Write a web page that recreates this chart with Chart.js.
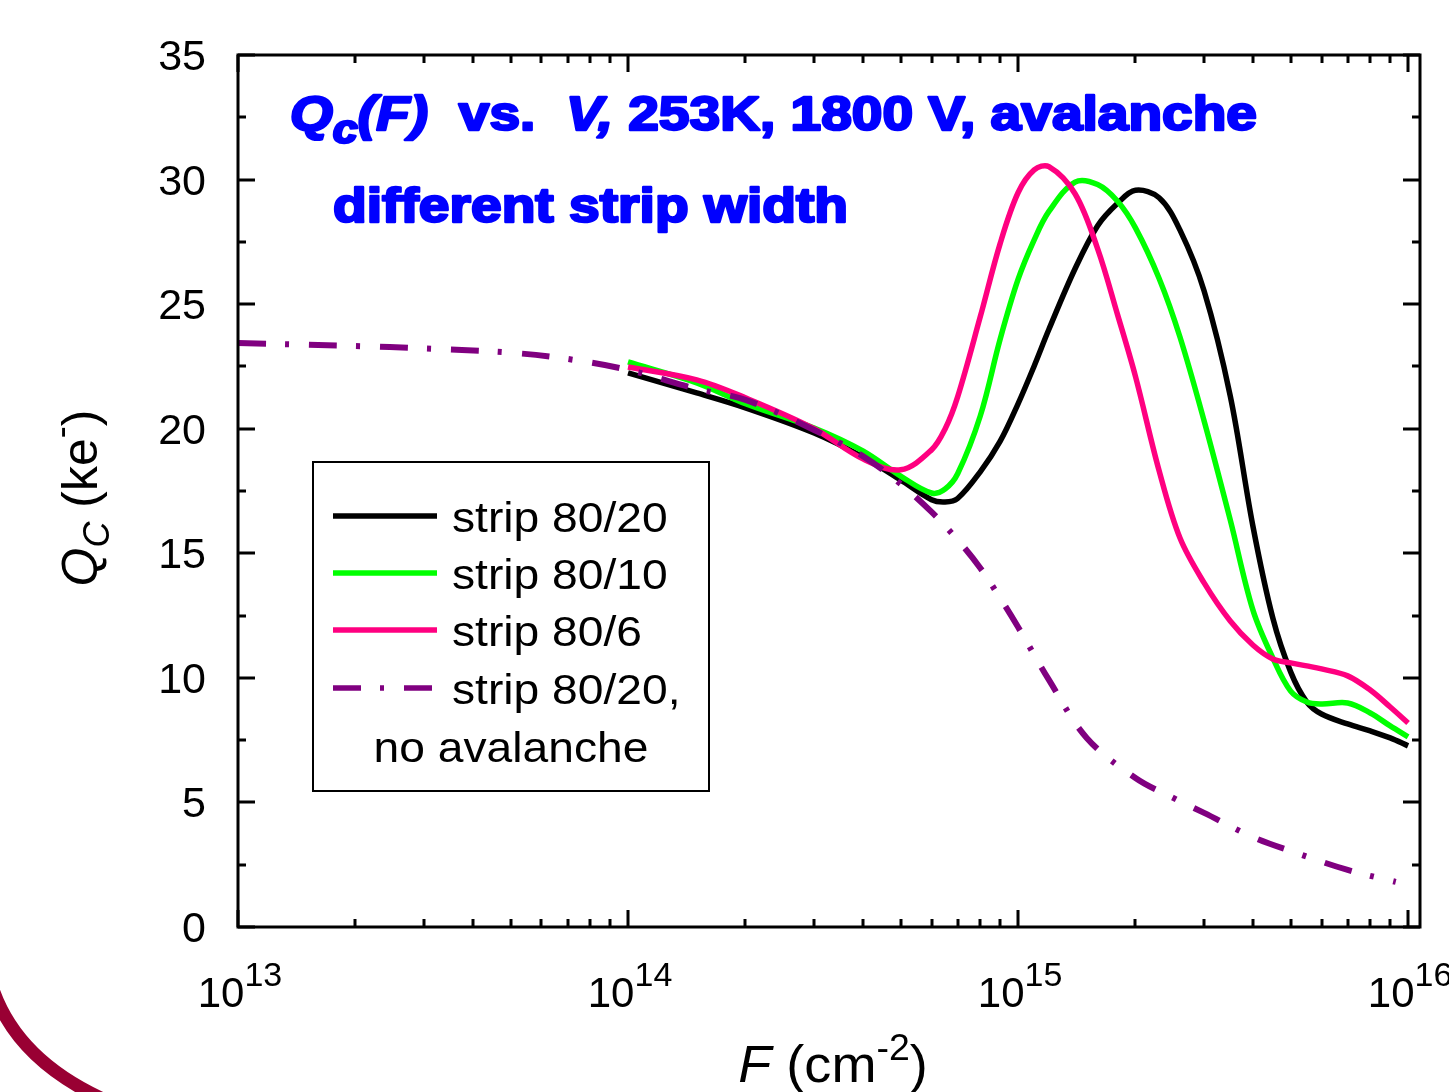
<!DOCTYPE html>
<html>
<head>
<meta charset="utf-8">
<script src="https://cdn.jsdelivr.net/npm/chart.js@4.4.0/dist/chart.umd.min.js"></script>
<style>
  html, body { margin: 0; padding: 0; background: #fff; }
  canvas { display: block; }
</style>
</head>
<body>
<canvas id="chart" width="1449" height="1092"></canvas>
<script>
// fluence points (cm^-2) for the avalanche runs
const fluence = [1e14, 1.5e14, 2e14, 3e14, 4e14, 5e14, 6e14, 6.5e14, 7e14, 8e14, 9e14,
  1e15, 1.1e15, 1.2e15, 1.4e15, 1.6e15, 1.8e15, 2e15, 2.3e15, 2.6e15, 3e15, 3.5e15,
  4e15, 4.5e15, 5e15, 5.5e15, 6e15, 7e15, 8e15, 9e15, 1e16];

const strip8020 = [22.24, 21.44, 20.84, 19.83, 18.87, 17.94, 17.15, 17.06, 17.2, 18.27, 19.5,
  21.0, 22.52, 23.99, 26.42, 28.15, 29.05, 29.57, 29.27, 27.98, 25.53, 21.32,
  16.1, 12.4, 10.24, 9.03, 8.55, 8.15, 7.87, 7.59, 7.27];

const strip8010 = [22.68, 21.84, 21.0, 20.03, 19.11, 18.1, 17.42, 17.58, 18.19, 20.51, 23.6,
  25.99, 27.58, 28.72, 29.9, 29.8, 29.13, 28.06, 26.03, 23.69, 20.31, 16.34,
  12.73, 10.8, 9.47, 9.03, 8.95, 8.99, 8.59, 8.07, 7.63];

const strip806 = [22.48, 21.96, 21.24, 20.0, 18.79, 18.35, 19.15, 19.99, 21.28, 24.49, 27.44,
  29.47, 30.39, 30.52, 29.43, 27.22, 24.57, 22.1, 18.31, 15.62, 13.81, 12.28,
  11.32, 10.76, 10.6, 10.48, 10.36, 10.08, 9.51, 8.83, 8.19];

// no avalanche run covers a wider range
const fluenceNoAv = [1e13, 2e13, 3e13, 5e13, 7e13, 1e14, 1.5e14, 2e14, 3e14, 4e14, 5e14,
  6e14, 7e14, 8e14, 9e14, 1e15, 1.2e15, 1.5e15, 2e15, 2.5e15, 3e15, 4e15, 5e15, 7e15, 9.3e15];
const strip8020NoAv = [23.44, 23.32, 23.22, 23.05, 22.8, 22.36, 21.6, 21.16, 19.95, 18.9, 17.78,
  16.66, 15.54, 14.41, 13.2, 12.04, 9.92, 7.59, 5.98, 5.18, 4.58, 3.61, 3.05, 2.29, 1.81];

const yTicks = [0, 5, 10, 15, 20, 25, 30, 35];
const xDecades = [13, 14, 15, 16];

const FAM = '"Liberation Sans", Arial, sans-serif';

function pts(xs, ys) {
  return xs.map((x, i) => ({ x: x, y: ys[i] }));
}

function fontOf(p, size) {
  return (p.italic ? 'italic ' : '') + (p.bold ? 'bold ' : '') + (p.size || size) + 'px ' + FAM;
}

// draws a run of text pieces (sub/superscripts via dy), optional horizontal stretch
function drawRich(ctx, parts, x, y, o) {
  let w = 0;
  parts.forEach(p => { ctx.font = fontOf(p, o.size); w += ctx.measureText(p.t).width; });
  let sx = o.sx || 1;
  if (o.fit) sx = o.fit / w;
  w *= sx;
  let x0 = o.align === 'center' ? x - w / 2 : (o.align === 'right' ? x - w : x);
  ctx.save();
  ctx.translate(x0, y);
  ctx.scale(sx, 1);
  ctx.fillStyle = o.color || '#000';
  ctx.strokeStyle = o.color || '#000';
  ctx.lineJoin = 'round';
  ctx.textAlign = 'left';
  ctx.textBaseline = 'alphabetic';
  let cx = 0;
  parts.forEach(p => {
    ctx.font = fontOf(p, o.size);
    ctx.fillText(p.t, cx, p.dy || 0);
    if (o.stroke) { ctx.lineWidth = o.stroke; ctx.strokeText(p.t, cx, p.dy || 0); }
    cx += ctx.measureText(p.t).width;
  });
  ctx.restore();
}

const framePlugin = {
  id: 'frame',
  beforeDraw(chart) {
    const ctx = chart.ctx;
    ctx.save();
    ctx.fillStyle = '#fff';
    ctx.fillRect(0, 0, chart.width, chart.height);
    // decorative arc at the bottom left
    ctx.strokeStyle = '#990033';
    ctx.lineWidth = 13;
    ctx.beginPath();
    ctx.moveTo(-10, 980);
    ctx.quadraticCurveTo(12, 1058, 105, 1100);
    ctx.stroke();
    ctx.restore();
  },
  afterDatasetsDraw(chart) {
    const ctx = chart.ctx;
    const a = chart.chartArea;
    const xs = chart.scales.x, ys = chart.scales.y;
    ctx.save();
    ctx.strokeStyle = '#000';
    ctx.lineWidth = 3;
    ctx.lineCap = 'butt';

    // x ticks, bottom and top, pointing inward
    xDecades.forEach(e => {
      for (let m = 1; m <= 9; m++) {
        const v = m * Math.pow(10, e);
        if (v < xs.min || v > xs.max) continue;
        const px = Math.round(xs.getPixelForValue(v));
        const len = m === 1 ? 17 : 8;
        ctx.beginPath();
        ctx.moveTo(px, a.bottom); ctx.lineTo(px, a.bottom - len);
        ctx.moveTo(px, a.top); ctx.lineTo(px, a.top + len);
        ctx.stroke();
      }
    });
    // y ticks, left and right
    for (let v = 0; v <= 35; v += 2.5) {
      const py = Math.round(ys.getPixelForValue(v));
      const len = v % 5 === 0 ? 17 : 8;
      ctx.beginPath();
      ctx.moveTo(a.left, py); ctx.lineTo(a.left + len, py);
      ctx.moveTo(a.right, py); ctx.lineTo(a.right - len, py);
      ctx.stroke();
    }
    ctx.strokeRect(a.left, a.top, a.right - a.left, a.bottom - a.top);

    // y tick labels
    yTicks.forEach(v => {
      const py = ys.getPixelForValue(v);
      drawRich(ctx, [{ t: String(v) }], 206, py + 15, { size: 43, align: 'right' });
    });
    // x tick labels 10^n
    xDecades.forEach(e => {
      const px = xs.getPixelForValue(Math.pow(10, e));
      drawRich(ctx, [{ t: '10' }, { t: String(e), size: 34, dy: -21 }], px + 2, 1007, { size: 42, align: 'center' });
    });

    // axis titles
    drawRich(ctx, [{ t: 'F', italic: true }, { t: ' (cm' }, { t: '-2', size: 36, dy: -22 }, { t: ')' }],
      833, 1082, { size: 52, align: 'center', sx: 1.04 });
    ctx.save();
    ctx.translate(97, 498);
    ctx.rotate(-Math.PI / 2);
    drawRich(ctx, [{ t: 'Q', italic: true }, { t: 'C', italic: true, size: 36, dy: 12 }, { t: ' (ke' },
      { t: '-', size: 36, dy: -24 }, { t: ')' }], 0, 0, { size: 50, align: 'center' });
    ctx.restore();
    ctx.restore();
  },
  afterDraw(chart) {
    const ctx = chart.ctx;
    ctx.save();
    // blue annotation
    drawRich(ctx, [{ t: 'Q', italic: true, bold: true }, { t: 'c', italic: true, bold: true, size: 40, dy: 13 },
      { t: '(F)', italic: true, bold: true }, { t: '  vs.  ', bold: true }, { t: 'V,', italic: true, bold: true },
      { t: ' 253K, 1800 V, avalanche', bold: true }], 290, 130,
      { size: 49, fit: 967, color: '#0000ff', stroke: 2.5 });
    drawRich(ctx, [{ t: 'different strip width', bold: true }], 333, 222,
      { size: 49, fit: 515, color: '#0000ff', stroke: 2.5 });

    // legend box
    ctx.strokeStyle = '#000';
    ctx.lineWidth = 2;
    ctx.strokeRect(313, 462, 396, 329);
    const rows = [516, 573, 630, 688];
    chart.data.datasets.forEach((ds, i) => {
      const y = rows[i];
      ctx.save();
      ctx.strokeStyle = ds.borderColor;
      ctx.lineWidth = 5.5;
      ctx.setLineDash(ds.borderDash || []);
      ctx.beginPath();
      ctx.moveTo(333, y); ctx.lineTo(437, y);
      ctx.stroke();
      ctx.restore();
      drawRich(ctx, [{ t: ds.label[0] }], 452, y + 16, { size: 42, sx: 1.1 });
      if (ds.label[1]) drawRich(ctx, [{ t: ds.label[1] }], 511, y + 74, { size: 42, sx: 1.1, align: 'center' });
    });
    ctx.restore();
  }
};

new Chart(document.getElementById('chart'), {
  type: 'line',
  data: {
    datasets: [
      { label: ['strip 80/20'], data: pts(fluence, strip8020), borderColor: '#000000', order: 3 },
      { label: ['strip 80/10'], data: pts(fluence, strip8010), borderColor: '#00ff00', order: 2 },
      { label: ['strip 80/6'], data: pts(fluence, strip806), borderColor: '#ff0080', order: 1 },
      { label: ['strip 80/20,', 'no avalanche'], data: pts(fluenceNoAv, strip8020NoAv), borderColor: '#800080',
        borderDash: [28, 19, 4, 20], borderWidth: 6, order: 0 }
    ]
  },
  options: {
    responsive: false,
    animation: false,
    layout: { padding: { left: 238, top: 55, right: 29, bottom: 165 } },
    plugins: { legend: { display: false }, tooltip: { enabled: false } },
    elements: {
      point: { radius: 0 },
      line: { borderWidth: 5.5, tension: 0.35, fill: false }
    },
    scales: {
      x: { type: 'logarithmic', display: false, min: 1e13, max: 1.073e16 },
      y: { type: 'linear', display: false, min: 0, max: 35 }
    }
  },
  plugins: [framePlugin]
});
</script>
</body>
</html>
